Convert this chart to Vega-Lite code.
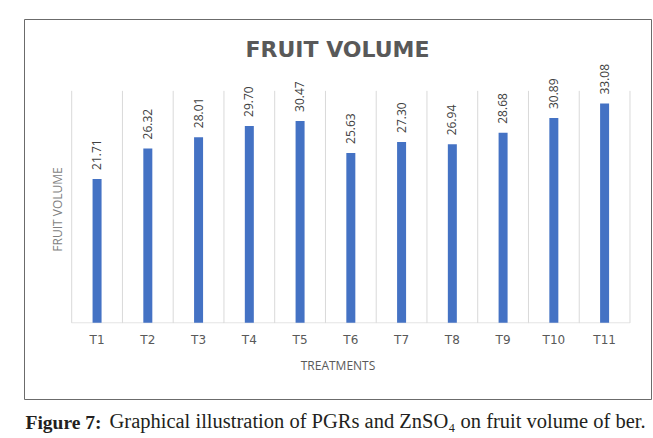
{
  "$schema": "https://vega.github.io/schema/vega-lite/v6.json",
  "padding": {"left": 23, "top": 18, "right": 0, "bottom": 0},
  "autosize": {"type": "pad"},
  "background": "white",
  "title": {"text": "Graphical illustration of PGRs and ZnSO₄ on fruit volume of ber.", "orient": "bottom", "anchor": "start", "font": "Liberation Serif", "fontSize": 20.5, "fontWeight": "normal", "color": "#231f20", "dx": 86, "dy": -4, "offset": 0, "baseline": "alphabetic"},
  "vconcat": [
    {
      "title": {"text": "Figure 7:", "orient": "bottom", "anchor": "start", "font": "Liberation Serif", "fontSize": 19.5, "fontWeight": "bold", "color": "#231f20", "dx": 2, "offset": 29, "baseline": "alphabetic"},
      "vconcat": [
        {
          "title": {"text": "FRUIT VOLUME", "font": "DejaVu Sans", "fontSize": 22, "fontWeight": "bold", "color": "#595959", "anchor": "middle", "offset": -60, "baseline": "alphabetic", "frame": "group"},
          "width": 627,
          "height": 380,
          "data": {"values": [
            {"t": "T1", "v": 21.71},
            {"t": "T2", "v": 26.32},
            {"t": "T3", "v": 28.01},
            {"t": "T4", "v": 29.70},
            {"t": "T5", "v": 30.47},
            {"t": "T6", "v": 25.63},
            {"t": "T7", "v": 27.30},
            {"t": "T8", "v": 26.94},
            {"t": "T9", "v": 28.68},
            {"t": "T10", "v": 30.89},
            {"t": "T11", "v": 33.08}
          ]},
          "layer": [
            {
              "mark": {"type": "rule", "color": "#d9d9d9", "strokeWidth": 1},
              "encoding": {
                "x": {"field": "t", "type": "nominal", "bandPosition": 0, "title": "TREATMENTS",
                  "scale": {"domain": ["T1","T2","T3","T4","T5","T6","T7","T8","T9","T10","T11"], "paddingInner": 0, "paddingOuter": 0.677, "align": 0.694}},
                "y": {"datum": 0, "type": "quantitative", "title": "FRUIT VOLUME", "scale": {"domain": [-11.49, 45.84], "nice": false, "zero": false}},
                "y2": {"datum": 35}
              }
            },
            {
              "transform": [{"filter": "datum.t === 'T11'"}],
              "mark": {"type": "rule", "color": "#d9d9d9", "strokeWidth": 1},
              "encoding": {
                "x": {"field": "t", "type": "nominal", "bandPosition": 1, "title": "TREATMENTS"},
                "y": {"datum": 0, "type": "quantitative", "title": "FRUIT VOLUME"},
                "y2": {"datum": 35}
              }
            },
            {
              "mark": {"type": "tick", "orient": "horizontal", "color": "#d9d9d9", "size": 51, "thickness": 1},
              "encoding": {
                "x": {"field": "t", "type": "nominal", "title": "TREATMENTS"},
                "y": {"datum": 0, "type": "quantitative", "title": "FRUIT VOLUME"}
              }
            },
            {
              "mark": {"type": "bar", "color": "#4472C4", "size": 9},
              "encoding": {
                "x": {"field": "t", "type": "nominal", "title": "TREATMENTS"},
                "y": {"field": "v", "type": "quantitative", "title": "FRUIT VOLUME"},
                "y2": {"datum": 0}
              }
            },
            {
              "mark": {"type": "text", "angle": 270, "align": "left", "baseline": "middle", "dx": 9, "fontSize": 12, "font": "Open Sans", "color": "#404040"},
              "encoding": {
                "x": {"field": "t", "type": "nominal", "title": "TREATMENTS"},
                "y": {"field": "v", "type": "quantitative", "title": "FRUIT VOLUME"},
                "text": {"field": "v", "type": "quantitative", "format": ".2f"}
              }
            }
          ]
        }
      ]
    }
  ],
  "config": {
    "view": {"stroke": "#6b6b6b", "strokeWidth": 1},
    "axisX": {"offset": -76.3, "domain": false, "ticks": false, "grid": false, "labelPadding": 12, "labelFontSize": 12, "labelColor": "#595959", "labelFont": "DejaVu Sans", "labelAngle": 0, "titleFont": "Open Sans", "titleFontSize": 12, "titleFontWeight": "normal", "titleColor": "#595959", "titlePadding": 15},
    "axisY": {"offset": -40, "domain": false, "ticks": false, "labels": false, "grid": false, "titleFont": "Open Sans", "titleFontSize": 12, "titleFontWeight": "normal", "titleColor": "#7f7f7f", "titlePadding": 0}
  }
}
